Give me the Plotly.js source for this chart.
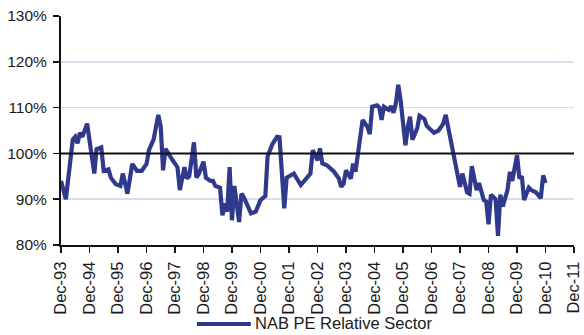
<!DOCTYPE html>
<html>
<head>
<meta charset="utf-8">
<script src="https://cdn.plot.ly/plotly-3.0.1.min.js"></script>
<style>
  html, body { margin: 0; padding: 0; background: #ffffff; }
  #chart { width: 584px; height: 335px; }
</style>
</head>
<body>
<div id="chart"></div>
<script>
// ---- Data ----
const seriesName = 'NAB PE Relative Sector';

const dates = ['1993-12','1994-02','1994-05','1994-06','1994-07','1994-08','1994-09','1994-11',
  '1995-01','1995-02','1995-03','1995-05','1995-06','1995-08','1995-09','1995-11',
  '1996-01','1996-02','1996-04','1996-06','1996-08','1996-10','1996-12',
  '1997-01','1997-03','1997-05','1997-06','1997-07','1997-08','1997-10','1997-11',
  '1998-01','1998-02','1998-04','1998-05','1998-06','1998-08','1998-09','1998-10','1998-12',
  '1999-01','1999-03','1999-04','1999-05','1999-07','1999-08','1999-09','1999-10','1999-11','1999-12',
  '2000-01','2000-03','2000-04','2000-05','2000-07','2000-08','2000-10','2000-12',
  '2001-02','2001-03','2001-05','2001-07','2001-08','2001-10','2001-11','2001-12',
  '2002-02','2002-05','2002-07','2002-09','2002-10','2002-12',
  '2003-01','2003-02','2003-04','2003-07','2003-09','2003-10','2003-11','2003-12',
  '2004-02','2004-03','2004-04','2004-06','2004-07','2004-09','2004-10','2004-11',
  '2005-01','2005-02','2005-03','2005-04','2005-06','2005-07','2005-08','2005-09','2005-10','2005-11',
  '2006-01','2006-02','2006-03','2006-04','2006-06','2006-07','2006-09','2006-10','2006-11',
  '2007-01','2007-03','2007-05','2007-06','2007-08','2007-09','2007-10','2007-12',
  '2008-01','2008-03','2008-04','2008-05','2008-07','2008-08','2008-10','2008-11','2008-12',
  '2009-01','2009-03','2009-04','2009-05','2009-06','2009-08','2009-09','2009-10','2009-12',
  '2010-01','2010-02','2010-03','2010-05','2010-06','2010-08','2010-10','2010-11','2010-12'];

const values = [94, 90, 103, 103.6, 102.2, 104.5, 103.6, 106.5,
  99.2, 95.6, 100.9, 101.3, 96.2, 96.5, 94.7, 93.3,
  92.9, 95.6, 91.2, 97.7, 96.2, 96.2, 97.7,
  100.7, 103, 108.4, 105.8, 96.3, 101, 99.2, 98.5,
  97, 92, 97, 94.5, 95, 102.4, 94.7, 95.5, 98.2,
  94.7, 94, 94, 92.9, 92.5, 86.5, 89.1, 87.3, 97, 85.4,
  92.9, 85, 91.2, 90.4, 88.4, 86.9, 87.3, 89.8,
  90.7, 99.3, 102, 103.6, 103.5, 88, 94.7, 95,
  95.6, 93.1, 94.2, 95.6, 100.7, 98.5,
  101.1, 97.8, 97.4, 96, 94.5, 92.7, 93.4, 96.3,
  94.5, 97.8, 96, 104.4, 107.3, 105.8, 104.2, 110.2,
  110.5, 110, 107.3, 110.2, 109.5, 110.3, 108.9, 111, 115, 111.5,
  101.8, 105.8, 108, 103, 105.5, 108.2, 107.5, 106, 105.5,
  104.5, 105, 106.5, 108.4, 102.9, 101.1, 98.5, 92.7,
  95.6, 91.5, 91.2, 97.2, 92, 93.5, 89.8, 89.5, 84.5,
  91, 90, 82, 91, 88.4, 92, 96, 94, 99.6,
  94.5, 95, 89.8, 92.5, 92, 91.5, 90.2, 95.2, 93.5];

const referenceLevel = 100;

const tickDates = ['1993-12-01','1994-12-01','1995-12-01','1996-12-01','1997-12-01','1998-12-01',
  '1999-12-01','2000-12-01','2001-12-01','2002-12-01','2003-12-01','2004-12-01','2005-12-01',
  '2006-12-01','2007-12-01','2008-12-01','2009-12-01','2010-12-01','2011-12-01'];
const tickLabels = ['Dec-93','Dec-94','Dec-95','Dec-96','Dec-97','Dec-98','Dec-99','Dec-00',
  'Dec-01','Dec-02','Dec-03','Dec-04','Dec-05','Dec-06','Dec-07','Dec-08','Dec-09','Dec-10','Dec-11'];

const yTicks = [80, 90, 100, 110, 120, 130];
const yTickLabels = ['80%', '90%', '100%', '110%', '120%', '130%'];

// ---- Chart ----
const lineColor = '#2f3a8c';
const font = 'Liberation Sans, Arial, sans-serif';

const trace = {
  type: 'scatter',
  mode: 'lines',
  x: dates.map(d => d + '-01'),
  y: values,
  name: seriesName,
  line: { color: lineColor, width: 4.2 },
  showlegend: false,
  hoverinfo: 'x+y'
};

const layout = {
  width: 584,
  height: 335,
  margin: { l: 61, r: 10, t: 16, b: 90 },
  paper_bgcolor: '#ffffff',
  plot_bgcolor: '#ffffff',
  font: { family: font, color: '#1a1a1a', size: 15 },
  xaxis: {
    type: 'date',
    range: [tickDates[0], tickDates[tickDates.length - 1]],
    tickmode: 'array',
    tickvals: tickDates,
    ticktext: tickLabels,
    tickangle: -90,
    ticks: 'outside',
    ticklen: 6,
    tickwidth: 1.5,
    tickcolor: '#111',
    showline: true,
    linecolor: '#111',
    linewidth: 2,
    showgrid: false,
    zeroline: false,
    ticklabelstandoff: 2,
    tickfont: { family: font, size: 16.5, color: '#1a1a1a' },
    fixedrange: true
  },
  yaxis: {
    range: [80, 130],
    tickmode: 'array',
    tickvals: yTicks,
    ticktext: yTickLabels,
    ticks: 'outside',
    ticklen: 6,
    tickwidth: 1.5,
    tickcolor: '#111',
    showline: true,
    linecolor: '#111',
    linewidth: 2,
    showgrid: true,
    gridcolor: '#dcdcec',
    gridwidth: 1.5,
    zeroline: false,
    ticklabelstandoff: 3,
    tickfont: { family: font, size: 15.5, color: '#1a1a1a' },
    fixedrange: true
  },
  shapes: [
    {
      type: 'line', xref: 'paper', x0: 0, x1: 1,
      yref: 'y', y0: referenceLevel, y1: referenceLevel,
      line: { color: '#111', width: 2 }, layer: 'above'
    },
    {
      type: 'line', xref: 'paper', x0: 0.265, x1: 0.37,
      yref: 'paper', y0: -0.345, y1: -0.345,
      line: { color: lineColor, width: 4 }
    }
  ],
  annotations: [
    {
      text: seriesName, xref: 'paper', yref: 'paper',
      x: 0.375, y: -0.341, xanchor: 'left', yanchor: 'middle',
      showarrow: false,
      font: { family: font, size: 16.5, color: '#1a1a1a' }
    }
  ]
};

Plotly.newPlot('chart', [trace], layout, { displayModeBar: false, staticPlot: true });
</script>
</body>
</html>
